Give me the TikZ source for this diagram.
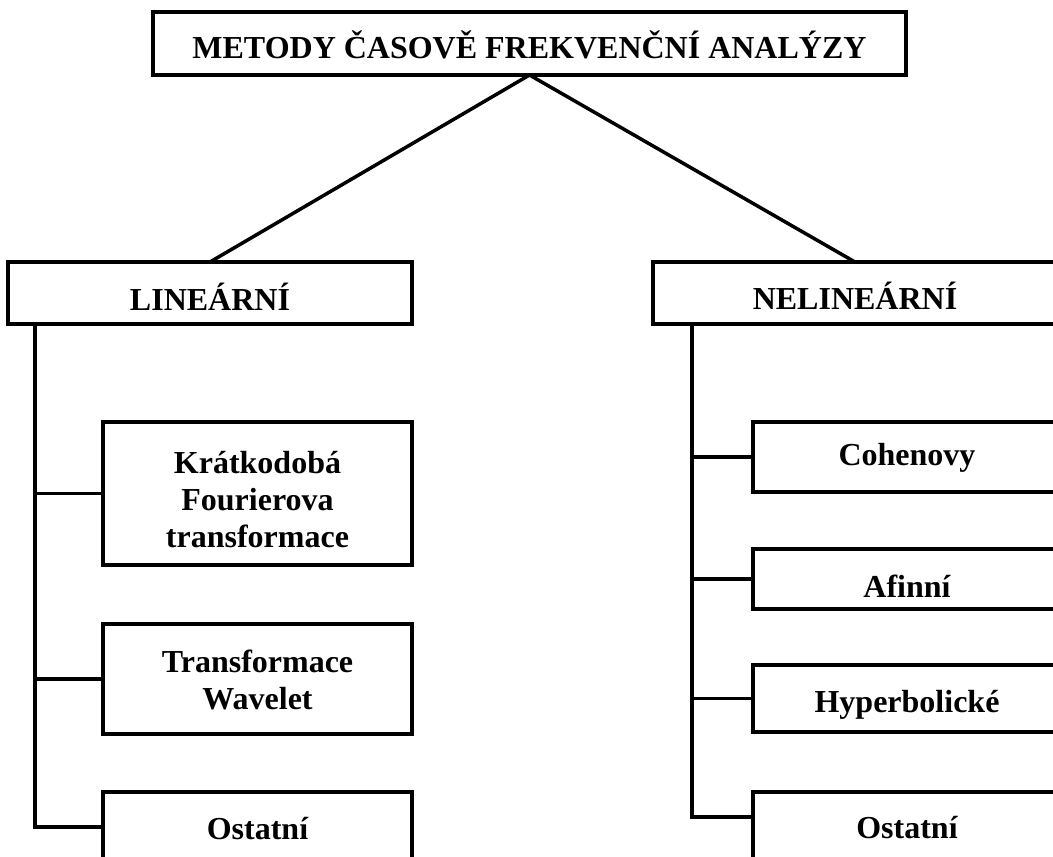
\documentclass[tikz,border=0pt]{standalone}
\usepackage{fontspec}
\setmainfont{Liberation Serif}
\usetikzlibrary{calc}
\newcommand{\boxtext}[2]{\raisebox{-#1pt}[0pt][0pt]{\begin{tabular}[t]{@{}c@{}}#2\end{tabular}}}
\begin{document}
\begin{tikzpicture}[x=1pt,y=-1pt,
  box/.style={draw, line width=3.5pt, inner sep=0pt, outer sep=0pt, line join=miter,
    font=\fontsize{32}{37}\selectfont\bfseries},
  conn/.style={draw, line width=3.5pt, line join=miter}]
\path[use as bounding box, fill=white] (0,0) rectangle (1053,857);
\clip (0,0) rectangle (1053,857);
% top
\node[box, minimum width=753pt, minimum height=63pt] (top) at (529.5,43.5) {\boxtext{14.5}{METODY ČASOVĚ FREKVENČNÍ ANALÝZY}};
\node[box, minimum width=404pt, minimum height=62pt] (lin) at (210,293) {\boxtext{17}{LINEÁRNÍ}};
\node[box, minimum width=404pt, minimum height=62pt] (nelin) at (855,293) {\boxtext{16.5}{NELINEÁRNÍ}};
% left children
\node[box, minimum width=309pt, minimum height=143pt] (stft) at (257.5,493.5) {\boxtext{-20.5}{Krátkodobá\\Fourierova\\transformace}};
\node[box, minimum width=309pt, minimum height=110pt] (wav) at (257.5,679) {\boxtext{-7}{Transformace\\Wavelet}};
\node[box, minimum width=309pt, minimum height=108pt] (ost1) at (257.5,846) {\boxtext{-7}{Ostatní}};
% right children
\node[box, minimum width=308pt, minimum height=70pt] (coh) at (907,457) {\boxtext{8}{Cohenovy}};
\node[box, minimum width=308pt, minimum height=60pt] (afi) at (907,579) {\boxtext{18}{Afinní}};
\node[box, minimum width=308pt, minimum height=67pt] (hyp) at (907,698.5) {\boxtext{13.5}{Hyperbolické}};
\node[box, minimum width=308pt, minimum height=108pt] (ost2) at (907,846) {\boxtext{-8}{Ostatní}};
% connectors
\draw[conn] (top.south) -- (lin.north);
\draw[conn] (top.south) -- (nelin.north);
\coordinate (lt) at (35,0);
\coordinate (rt) at (692,0);
\draw[conn] (lin.south -| lt) |- ($(ost1.north west)+(0,35)$);
\draw[conn] (stft.west -| lt) -- (stft.west);
\draw[conn] (wav.west -| lt) -- (wav.west);
\draw[conn] (nelin.south -| rt) |- ($(ost2.north west)+(0,25)$);
\draw[conn] (coh.west -| rt) -- (coh.west);
\draw[conn] (afi.west -| rt) -- (afi.west);
\draw[conn] (hyp.west -| rt) -- (hyp.west);
\end{tikzpicture}
\end{document}
